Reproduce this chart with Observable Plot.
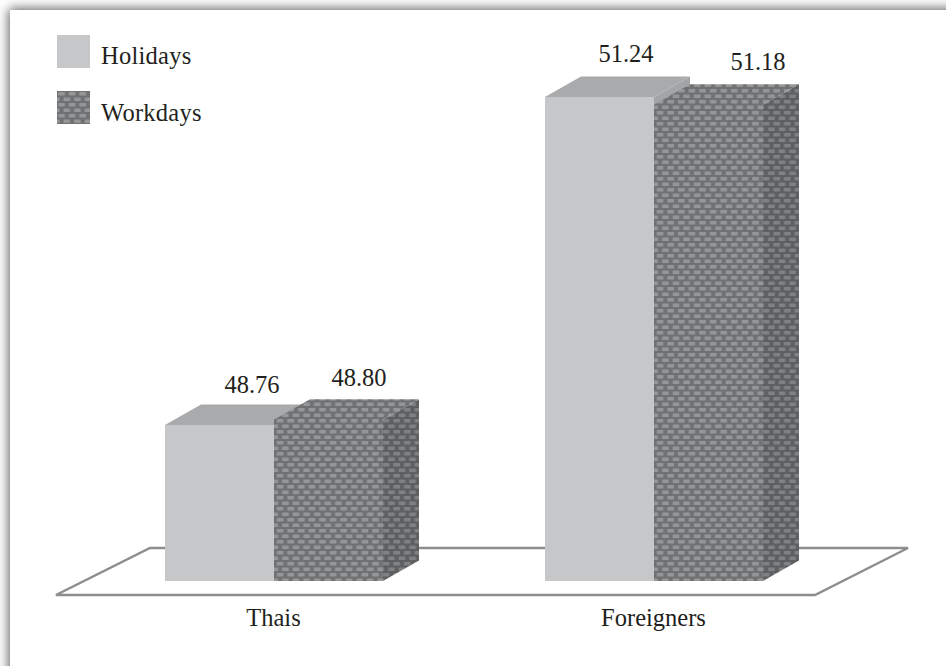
<!DOCTYPE html>
<html><head><meta charset="utf-8">
<script src="https://cdn.jsdelivr.net/npm/d3@7"></script>
<script src="https://cdn.jsdelivr.net/npm/@observablehq/plot@0.6"></script>
<style>
html,body{margin:0;padding:0;background:#fff;overflow:hidden}
#page{position:relative;width:946px;height:666px;overflow:hidden;background:#fff}
#panel{position:absolute;left:10px;top:10px;width:1000px;height:800px;background:#fff;box-shadow:-1px -1px 11px #555}
#chart{position:absolute;left:0;top:0}
#chart svg{background:transparent}
#legend{position:absolute;left:57px;top:35px;font:24.5px "Liberation Serif",serif;color:#231f20;letter-spacing:.25px}
.row{position:absolute;left:0;display:flex;align-items:center;white-space:nowrap}
.row svg{display:block;margin-right:11px}
.row span{position:relative}
</style></head><body>
<div id="page"><div id="panel"></div><div id="chart"></div><div id="legend"></div></div>
<script>
const categories = ["Thais", "Foreigners"];
const seriesNames = ["Holidays", "Workdays"];
const holidays = [48.76, 51.24];
const workdays = [48.80, 51.18];
const valueLabels = [["48.76","48.80"],["51.24","51.18"]];

const rows = categories.flatMap((c,i)=>[
  {category:c, series:"Holidays", value:holidays[i], label:valueLabels[i][0]},
  {category:c, series:"Workdays", value:workdays[i], label:valueLabels[i][1]}
]);

const depth = {dx:36, dy:-20.5};
const baseValue = 47.58;
const labelNudge = {"Thais|Holidays":[32,-40],"Thais|Workdays":[30,-42],"Foreigners|Holidays":[26,-43],"Foreigners|Workdays":[49,-43]};
const legendTextShift = [4, 5];
const font = '"Liberation Serif",serif';

const svgNS = "http://www.w3.org/2000/svg";
function poly(points, fill){
  const p = document.createElementNS(svgNS,"polygon");
  p.setAttribute("points", points.map(d=>d.join(",")).join(" "));
  p.setAttribute("fill", fill);
  return p;
}
const faces = {
  Holidays:{front:"#c6c7c9", top:"#a9aaac", side:"#a4a5a7"},
  Workdays:{front:"url(#weave)", top:"url(#weave)", side:"url(#weaveDark)"}
};
function extrude(series){
  return function(index, scales, values, dims, context, next){
    const g = next(index, scales, values, dims, context);
    const f = faces[series];
    const overlap = series === "Workdays" ? 1.5 : 0;
    for (const r of Array.from(g.querySelectorAll("rect"))){
      const x = +r.getAttribute("x"), y = +r.getAttribute("y"),
            w = +r.getAttribute("width"), h = +r.getAttribute("height");
      const {dx,dy} = depth;
      r.parentNode.append(
        poly([[x+w,y],[x+w+dx,y+dy],[x+w+dx,y+h+dy],[x+w,y+h]], f.side),
        poly([[x,y+overlap],[x,y],[x+dx,y+dy],[x+w+dx,y+dy],[x+w,y],[x+w,y+overlap]], f.top)
      );
    }
    return g;
  };
}
let floorDrawn = false;
function floor(index, scales, dims){
  if (floorDrawn) return null;
  floorDrawn = true;
  const {fx, y} = scales;
  const base = y(baseValue), bw = fx.bandwidth();
  const left = fx(categories[0]), right = fx(categories[1]) + bw;
  const front = base + 14, back = base - 33;
  const p = poly([[left-109,front],[right+52,front],[right+145,back],[left-15,back]], "#fff");
  p.setAttribute("stroke","#8c8d8f");
  p.setAttribute("stroke-width","2.4");
  const g = document.createElementNS(svgNS,"g");
  g.append(p);
  return g;
}
function defs(){
  const g = document.createElementNS(svgNS,"defs");
  const mk = (id,bg,fg)=>`<pattern id="${id}" width="10.6" height="11" patternUnits="userSpaceOnUse">
    <rect width="10.6" height="11" fill="${bg}"/>
    <rect x="1.2" y="1" width="6.6" height="3.6" rx="0.6" fill="${fg}"/>
    <rect x="6.5" y="6.5" width="6.6" height="3.6" rx="0.6" fill="${fg}"/>
    <rect x="-4.1" y="6.5" width="6.6" height="3.6" rx="0.6" fill="${fg}"/></pattern>`;
  g.innerHTML = mk("weave","#707173","#959698")+mk("weaveDark","#5e5f61","#808183");
  return g;
}

const textMarks = rows.map(d=>{
  const [dx,dy] = labelNudge[d.category+"|"+d.series];
  return Plot.text([d],{fx:"category",x:"series",y:"value",text:"label",dx,dy,fontSize:24.5,fill:"#231f20"});
});

const plot = Plot.plot({
  width:946, height:666,
  marginLeft:165, marginRight:183, marginTop:0, marginBottom:85,
  style:{background:"transparent",fontFamily:font},
  fx:{domain:categories, paddingInner:162/380, paddingOuter:0, round:false, label:null},
  x:{domain:seriesNames, padding:0, round:false, axis:null},
  y:{domain:[baseValue, baseValue+581/132.26], axis:null},
  marks:[
    defs, floor,
    ...seriesNames.map(s=>Plot.barY(rows.filter(d=>d.series===s),{
      fx:"category", x:"series", y1:baseValue, y2:"value",
      fill:faces[s].front, inset:0, render:extrude(s)
    })),
    ...textMarks,
    Plot.axisFx({anchor:"bottom",tickSize:0,tickPadding:27,fontSize:24.5,label:null,fill:"#231f20",dx:-1,letterSpacing:".3px"})
  ]
});
document.getElementById("chart").append(plot);

const legend = document.getElementById("legend");
seriesNames.forEach((s,i)=>{
  const row = document.createElement("div");
  row.className="row"; row.style.top=(i*56)+"px";
  row.innerHTML = `<svg width="33" height="33"><rect width="33" height="33" fill="${faces[s].front}"/></svg><span style="top:${legendTextShift[i]}px">${s}</span>`;
  legend.append(row);
});
</script></body></html>
